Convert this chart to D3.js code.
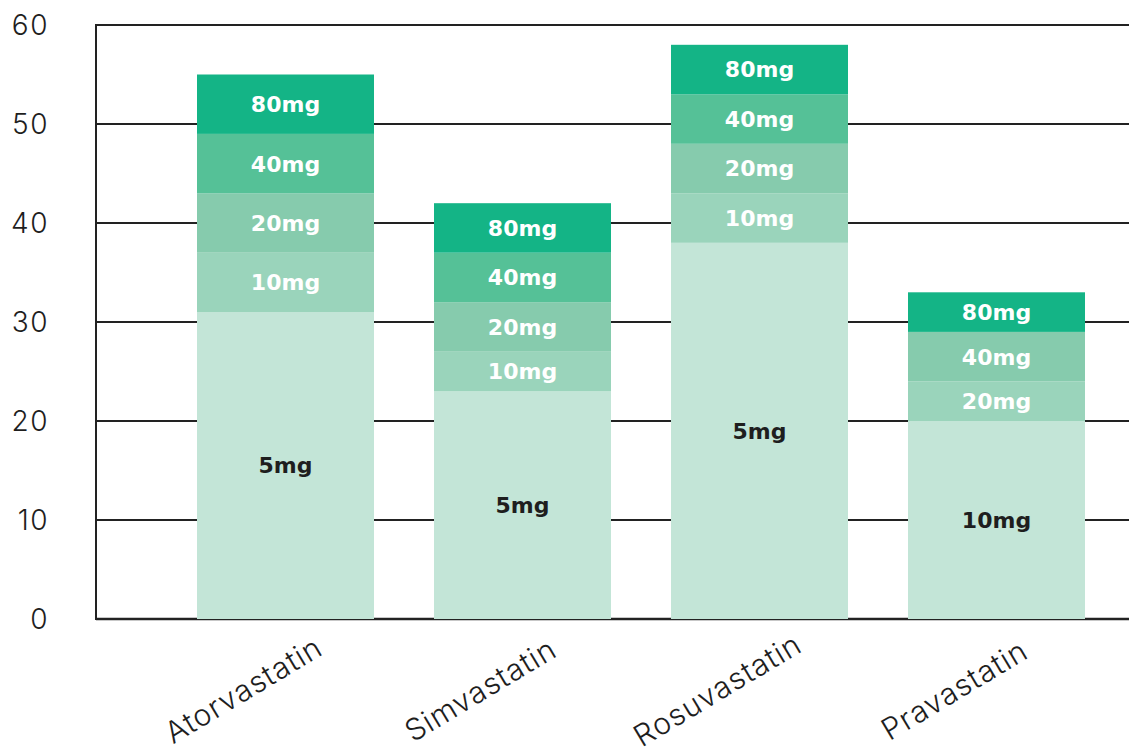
<!DOCTYPE html>
<html><head><meta charset="utf-8">
<script src="https://cdn.jsdelivr.net/npm/d3@7"></script>
<style>html,body{margin:0;padding:0;background:#fff;}</style>
</head><body>
<svg id="chart" width="1129" height="753"></svg>
<script>
const categories = ["Atorvastatin", "Simvastatin", "Rosuvastatin", "Pravastatin"];
// stacked layers, bottom to top
const layer1 = [31, 23, 38, 20];
const layer2 = [6, 4, 5, 4];
const layer3 = [6, 5, 5, 5];
const layer4 = [6, 5, 5, 0];
const layer5 = [6, 5, 5, 4];
const labels1 = ["5mg", "5mg", "5mg", "10mg"];
const labels2 = ["10mg", "10mg", "10mg", "20mg"];
const labels3 = ["20mg", "20mg", "20mg", "40mg"];
const labels4 = ["40mg", "40mg", "40mg", ""];
const labels5 = ["80mg", "80mg", "80mg", "80mg"];
const yTicks = [0, 10, 20, 30, 40, 50, 60];

const layers = [layer1, layer2, layer3, layer4, layer5];
const layerLabels = [labels1, labels2, labels3, labels4, labels5];
const colors = ["#c3e5d7", "#9ad4bb", "#86cbad", "#55c197", "#14b486"];
const textColors = ["#1e1e1e", "#ffffff", "#ffffff", "#ffffff", "#ffffff"];

const svg = d3.select("#chart");
const x = d3.scaleBand().domain(categories).range([197, 1085]).paddingInner(60/237).paddingOuter(0);
const y = d3.scaleLinear().domain([0, 60]).range([619, 25]);

// gridlines
svg.append("g").selectAll("line").data(yTicks).join("line")
  .attr("x1", 96).attr("x2", 1129)
  .attr("y1", d => y(d)).attr("y2", d => y(d))
  .attr("stroke", "#222").attr("stroke-width", d => d === 0 ? 2.5 : 2);
svg.append("line").attr("x1", 96).attr("x2", 96).attr("y1", y(60) - 1).attr("y2", y(0) + 1)
  .attr("stroke", "#222").attr("stroke-width", 2);

// y tick labels
svg.append("g").selectAll("text").data(yTicks).join("text")
  .attr("x", 49).attr("y", d => y(d)).attr("dy", "0.35em")
  .attr("text-anchor", "end")
  .attr("font-family", "Inter, sans-serif").attr("font-weight", 300)
  .attr("font-size", 28).attr("letter-spacing", 1.5).attr("fill", "#1e1e1e")
  .text(d => d);

// stacked bars
const segs = [];
categories.forEach((c, i) => {
  let base = 0;
  layers.forEach((L, li) => {
    const v = L[i];
    if (v > 0) segs.push({cat: c, y0: base, y1: base + v, li, label: layerLabels[li][i]});
    base += v;
  });
});
const g = svg.append("g");
g.selectAll("rect").data(segs).join("rect")
  .attr("x", d => x(d.cat)).attr("width", x.bandwidth())
  .attr("y", d => y(d.y1)).attr("height", d => y(d.y0) - y(d.y1))
  .attr("fill", d => colors[d.li]);
g.selectAll("text").data(segs).join("text")
  .attr("x", d => x(d.cat) + x.bandwidth() / 2)
  .attr("y", d => (y(d.y0) + y(d.y1)) / 2).attr("dy", "0.36em")
  .attr("text-anchor", "middle")
  .attr("font-family", "DejaVu Sans, sans-serif").attr("font-weight", "bold")
  .attr("font-size", 22).attr("fill", d => textColors[d.li])
  .text(d => d.label);

// x labels
svg.append("g").selectAll("text").data(categories).join("text")
  .attr("transform", d => `translate(${x(d) + x.bandwidth() / 2 - 42},${690}) rotate(-31)`)
  .attr("text-anchor", "middle").attr("dy", "0.35em")
  .attr("font-family", "Inter, sans-serif").attr("font-weight", 300)
  .attr("font-size", 30).attr("letter-spacing", 1).attr("fill", "#1e1e1e")
  .text(d => d);
</script>
</body></html>
